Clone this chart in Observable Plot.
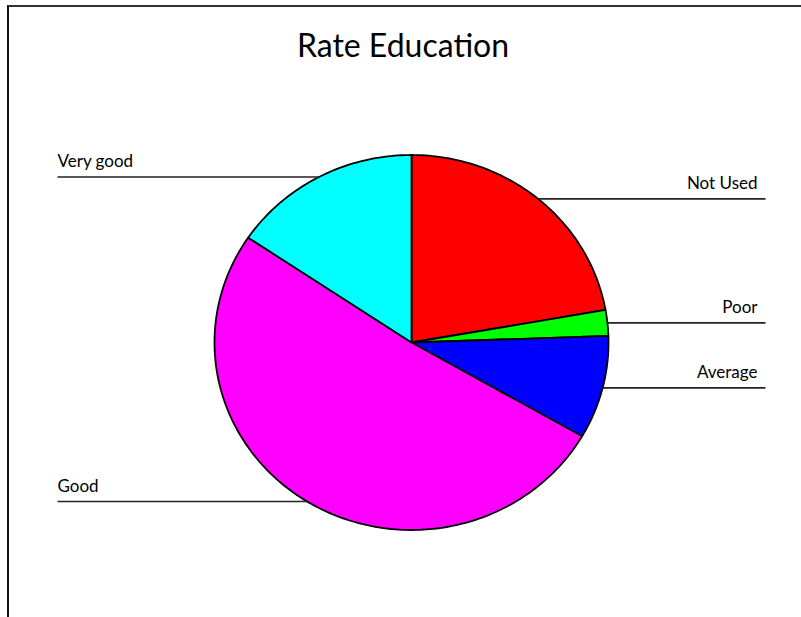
<!DOCTYPE html>
<html><head><meta charset="utf-8">
<script src="https://cdn.jsdelivr.net/npm/d3@7"></script>
<script src="https://cdn.jsdelivr.net/npm/@observablehq/plot@0.6"></script>
<style>
html,body{margin:0;padding:0;background:#fff;}
#chart{position:relative;width:801px;height:617px;overflow:hidden;}
#chart svg{position:absolute;left:0;top:0;}
#frame{position:absolute;left:7px;top:5px;width:820px;height:640px;border-top:2px solid #333;border-left:2px solid #111;}
</style></head><body>
<div id="chart"><div id="frame"></div></div>
<script>
// ---- data ----
const title = "Rate Education";
const categories = ["Not Used", "Poor", "Average", "Good", "Very good"];
const counts = [10, 1, 4, 23, 7];
const colors = ["#ff0000", "#00ff00", "#0000ff", "#ff00ff", "#00ffff"];

// ---- layout ----
const W = 801, H = 617;
const CX = 411, CY = 342, RX = 197, RY = 187.5;
const REACH = (765 - CX) / RX; // leader line reach in radius units

const rows = categories.map((c, i) => ({label: c, count: counts[i]}));
const arcs = d3.pie().sort(null).value(d => d.count)(rows);

const pts = [];
for (const a of arcs) {
  const lab = a.data.label;
  pts.push({label: lab, x: 0, y: 0});
  const n = Math.max(2, Math.ceil((a.endAngle - a.startAngle) / (Math.PI / 180)));
  for (let k = 0; k <= n; k++) {
    const t = a.startAngle + (a.endAngle - a.startAngle) * k / n;
    pts.push({label: lab, x: Math.sin(t), y: Math.cos(t)});
  }
  pts.push({label: lab, x: 0, y: 0});
}

const leaders = arcs.map(a => {
  const m = (a.startAngle + a.endAngle) / 2;
  const s = Math.sin(m);
  return {label: a.data.label, x0: s, y: Math.cos(m), x1: (s >= 0 ? 1 : -1) * REACH, right: s >= 0};
});

const plot = Plot.plot({
  width: W, height: H, margin: 0,
  x: {domain: [-1, 1], range: [CX - RX, CX + RX], axis: null},
  y: {domain: [-1, 1], range: [CY + RY, CY - RY], axis: null},
  color: {domain: categories, range: colors},
  style: {fontFamily: "Lato, 'Open Sans', sans-serif", fontSize: "17px", background: "transparent", color: "#000", overflow: "visible"},
  marks: [
    Plot.line(pts, {x: "x", y: "y", z: "label", fill: "label", stroke: "#000", strokeWidth: 1.8, strokeLinejoin: "round"}),
    Plot.link(leaders, {x1: "x0", y1: "y", x2: "x1", y2: "y", stroke: "#222", strokeWidth: 1.6}),
    Plot.text(leaders.filter(d => d.right), {x: "x1", y: "y", text: "label", textAnchor: "end", lineAnchor: "bottom", dx: -8, dy: -10, fill: "#000", fontSize: 17}),
    Plot.text(leaders.filter(d => !d.right), {x: "x1", y: "y", text: "label", textAnchor: "start", lineAnchor: "bottom", dy: -10, fill: "#000", fontSize: 17}),
    Plot.text([title], {frameAnchor: "top", text: d => d, lineAnchor: "bottom", dx: 2, dy: 56, fontSize: 32, fill: "#000"})
  ]
});
document.getElementById("chart").appendChild(plot);
</script>
</body></html>
